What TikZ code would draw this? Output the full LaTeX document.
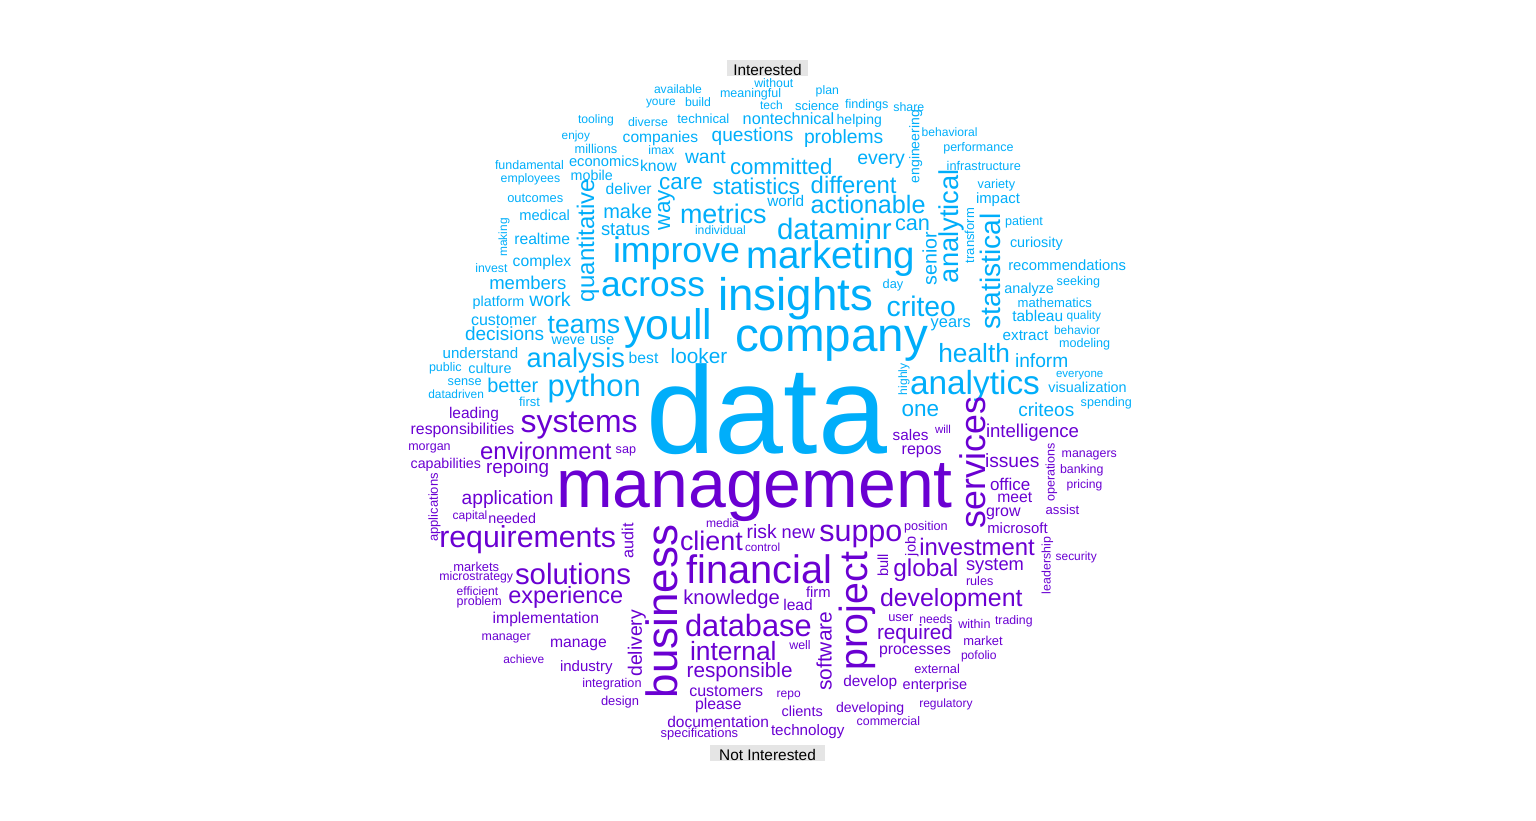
\documentclass[tikz,border=0pt]{standalone}
\usepackage{fontspec}
\setmainfont{Liberation Sans}
\definecolor{intblue}{RGB}{0,174,250}
\definecolor{notpurple}{RGB}{106,0,210}
\definecolor{tagbg}{RGB}{229,229,229}
\newcommand{\wsize}[1]{\fontsize{#1}{#1}\selectfont}
\tikzset{
  wd/.style={anchor=base west, inner sep=0pt, outer sep=0pt},
  wdv/.style={wd, rotate=90},
  blu/.style={text=intblue},
  pur/.style={text=notpurple},
  tag/.style={anchor=base, fill=tagbg, text=black, inner sep=0pt, text height=15pt, text depth=1pt, font=\wsize{15.4}}
}
\begin{document}
\begin{tikzpicture}[x=1pt,y=-1pt]
\useasboundingbox (0,0) rectangle (1536,821);
% group labels
\node[tag, minimum width=81pt] (interested) at (767.5,75.5) {Interested};
\node[tag, minimum width=115pt] (notinterested) at (767.5,760) {Not Interested};
% interested words
\foreach \px/\py/\fsz/\word in {
  654/93.2/12.1/available, 754.3/87.2/12.3/without, 720/97.2/12.5/meaningful,
  815.7/94.8/12.3/plan, 646/105.5/11.9/youre, 685/106.5/12.3/build, 760/109.8/12/tech,
  795/110.5/13/science, 845/108.8/12.6/findings, 893.3/111.2/12.4/share,
  578/123.8/12.2/tooling, 628/126.2/12.4/diverse, 677.3/123.2/13.2/technical,
  742.7/125/16.3/nontechnical, 836.7/124.8/14/helping, 921.7/136.5/12.1/behavioral,
  561.7/139.8/11.8/enjoy, 622.7/142.5/15.6/companies, 711.7/142/19.1/questions,
  804/144/19.3/problems, 943.3/151.2/12.5/performance, 574.7/153.2/12.8/millions,
  648.3/154.8/12.3/imax, 685/163.5/19.3/want, 857.3/164.5/19.5/every,
  569/166.8/14.7/economics, 640/171.5/15.7/know, 495/169.8/12.5/fundamental,
  946.7/170.5/12.7/infrastructure, 730/174.5/22.2/committed, 570.7/180.8/14.3/mobile,
  500.7/182.5/12.3/employees, 659/189.5/22.5/care, 977.7/188.8/12.7/variety,
  810.7/193.5/23.9/different, 712.7/194.5/22.8/statistics, 605.7/195/15.6/deliver,
  507.3/202.5/12.9/outcomes, 976/203.5/14.9/impact, 767.3/207/15.4/world,
  810.7/213.7/25.2/actionable, 603.3/218.3/20/make, 519.3/220.8/14.7/medical,
  680/223.7/26.9/metrics, 1005/225.5/12.6/patient, 895/230.3/21.7/can,
  695/234.5/12.2/individual, 601/236/18.4/status, 777/240/29.5/dataminr,
  514.3/244/15.7/realtime, 1010/247.5/14.4/curiosity, 613/262/35.7/improve,
  746/268/38.5/marketing, 512.7/266/15.7/complex, 1008.3/270/14.8/recommendations,
  475.3/272.8/12.3/invest, 1056.7/285.5/12.6/seeking, 489.3/289.3/18.5/members,
  882.7/288.8/12.8/day, 1004.3/293/14.4/analyze, 601/296.3/35.3/across,
  529.3/306/19.6/work, 472.7/306.7/14.3/platform, 718.3/310/45.7/insights,
  1017.7/307.3/13.1/mathematics, 886.7/316.3/28.3/criteo, 1066.7/319.8/11.9/quality,
  1012.3/321.5/15.5/tableau, 471/325.8/16/customer, 930.7/327.5/16.4/years,
  547.7/333.7/26.6/teams, 1054/334.8/12/behavior, 624/339.5/42.8/youll,
  465/340.3/19/decisions, 1002.7/340/15.2/extract, 590/344/15.1/use,
  551.7/344.7/14.3/weve, 1059/347.8/12.6/modeling, 735/351.3/47.6/company,
  442.7/358/15.1/understand, 938.3/362/26.3/health, 670.7/363/20.8/looker,
  628.7/363.5/15.7/best, 526.7/367.5/27.2/analysis, 1015/367.7/19.2/inform,
  429/371.2/12.5/public, 468.3/373.3/14.4/culture, 1056/377.2/11.5/everyone,
  447.7/385.5/12.7/sense, 910/394/33.4/analytics, 1048.3/392.5/14.4/visualization,
  487.3/392.7/19.9/better, 547.7/396.3/31/python, 428.3/398.8/11.9/datadriven,
  519/406.5/13/first, 1080.7/406.5/12.6/spending, 901.7/416/22.5/one,
  1018.3/416/19/criteos, 646/453.5/124/data}
  \node[wd, blu, font=\wsize{\fsz}] (\word) at (\px,\py) {\word};
\foreach \px/\py/\fsz/\word in {
  594/302/24/quantitative, 507/256.7/11.9/making, 670/230/22.5/way,
  919.3/183.3/14/engineering, 958/283/27.3/analytical, 974/263/13/transform,
  1000.7/329.3/28.2/statistical, 936.7/285/19.6/senior, 907/395/12.1/highly}
  \node[wdv, blu, font=\wsize{\fsz}] (\word) at (\px,\py) {\word};
% not interested words
\foreach \px/\py/\fsz/\word in {
  449/418/15.5/leading, 410.7/434/15.8/responsibilities, 520.7/432.3/31.9/systems,
  935/433.8/11.5/will, 986/437.5/18.6/intelligence, 892.7/440/15.3/sales,
  408.3/450.5/12.5/morgan, 615.7/453.2/12.6/sap, 901.7/454/16/repos,
  480/459.7/23.9/environment, 1061.7/457.2/12.4/managers, 985/467.7/19.2/issues,
  410.7/468.3/14.2/capabilities, 486/473.7/18.9/repoing, 1060/473.2/12.4/banking,
  1066.7/488.8/12.1/pricing, 990/490.3/17/office, 997.3/502.5/15.7/meet,
  461.7/504.5/19.2/application, 556/507/68/management, 1045.7/514.8/13.1/assist,
  986/516/16/grow, 452.7/519.8/12/capital, 488.3/523.3/14.3/needed,
  706/527.8/12.1/media, 904/530.5/12.7/position, 987.3/533/14.9/microsoft,
  746.7/538/19.3/risk, 781.7/538.5/18.2/new, 819.3/541.5/30.5/suppo,
  439.3/547.5/30.3/requirements, 680/550.5/26.9/client, 745/551.2/11.7/control,
  919.3/555.5/23.9/investment, 1055.7/560.5/11.9/security, 966/570.3/18.3/system,
  893.3/576/24.4/global, 453.3/571.2/12.9/markets, 439.3/580.5/12.3/microstrategy,
  515/584.7/29.4/solutions, 686.7/583.5/39.8/financial, 966/585.5/12.6/rules,
  456.7/595.5/12.1/efficient, 806/597/14.8/firm, 508.3/603.3/23.5/experience,
  683.3/604.5/20.2/knowledge, 456.7/605.5/12.5/problem, 880/606.5/24.9/development,
  783.3/610.3/15.6/lead, 888.3/621.2/12.9/user, 492.7/623.5/15.7/implementation,
  919.3/623.8/12.2/needs, 995/624.5/12.3/trading, 958.3/628/12.6/within,
  685/636.3/30.8/database, 877/639.5/20.7/required, 481.7/640.5/12.4/manager,
  963.3/645.5/12.9/market, 550/647/15.7/manage, 789.3/649.8/12.4/well,
  879/654.3/15.8/processes, 690/660.5/26.4/internal, 961/659.8/12.1/pofolio,
  503.3/663.8/11.9/achieve, 560/671/15/industry, 914.3/673.2/12.8/external,
  686.7/677.5/20.7/responsible, 843.3/686/15.4/develop, 582.3/687.8/12.7/integration,
  902.7/689.3/14.5/enterprise, 689.3/696/16/customers, 776.7/697.8/12/repo,
  601/705.5/12.9/design, 919.3/707.2/12/regulatory, 695/709.3/15.8/please,
  836/712.5/14.1/developing, 781.7/716.5/14.5/clients, 856.7/725.5/12.4/commercial,
  667.3/727/15.5/documentation, 771/735/15.2/technology, 660.7/737.2/12.9/specifications}
  \node[wd, pur, font=\wsize{\fsz}] (\word) at (\px,\py) {\word};
\foreach \px/\py/\fsz/\word in {
  985/528/35.7/services, 1054.5/501.7/12.5/operations, 437.8/541.7/13/applications,
  633.4/558.3/16.1/audit, 915.6/556/14.5/job, 1050.7/594/12.4/leadership,
  888/576.7/14.6/bull, 867/670/39.3/project, 677/698/43.9/business,
  641.9/676.7/19.4/delivery, 831.7/690.7/20.9/software}
  \node[wdv, pur, font=\wsize{\fsz}] (\word) at (\px,\py) {\word};
\end{tikzpicture}
\end{document}
